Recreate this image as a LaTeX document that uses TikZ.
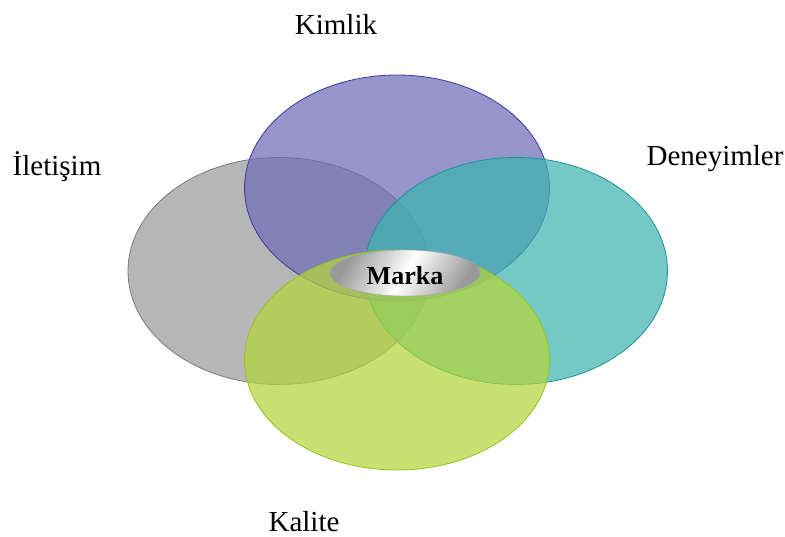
\documentclass[tikz,border=0pt]{standalone}
\usepackage{fontspec}
\setmainfont{Liberation Serif}
\usetikzlibrary{shapes.geometric}
\definecolor{kimlikfill}{HTML}{6E6EBA}
\definecolor{kimlikline}{HTML}{3A3A9A}
\definecolor{iletfill}{HTML}{9A9A9A}
\definecolor{iletline}{HTML}{7A7A7A}
\definecolor{deneyfill}{HTML}{3FB4B2}
\definecolor{deneyline}{HTML}{1A9494}
\definecolor{kalitefill}{HTML}{B4D43C}
\definecolor{kaliteline}{HTML}{94C21E}
\tikzset{
  petal/.style={draw, line width=0.8pt, fill opacity=0.72},
  label/.style={font=\fontsize{29}{32}\selectfont, anchor=base, inner sep=0pt},
}
\begin{document}
\begin{tikzpicture}[x=1pt,y=-1pt]
  \useasboundingbox (0,0) rectangle (785,536);
  % four overlapping brand components
  \node[petal, ellipse, minimum width=302pt, minimum height=227pt, inner sep=0pt,
        draw=iletline, fill=iletfill] (ilet) at (279,271) {};
  \node[petal, ellipse, minimum width=305pt, minimum height=226pt, inner sep=0pt,
        draw=kimlikline, fill=kimlikfill] (kimlik) at (397,188) {};
  \node[petal, ellipse, minimum width=303pt, minimum height=227pt, inner sep=0pt,
        draw=deneyline, fill=deneyfill] (deney) at (516,271) {};
  \node[petal, ellipse, minimum width=305pt, minimum height=220pt, inner sep=0pt,
        draw=kaliteline, fill=kalitefill] (kalite) at (397,360) {};
  % central brand core
  \node[ellipse, minimum width=150pt, minimum height=46pt, inner sep=0pt,
        draw=gray!70, line width=0.4pt,
        shading=axis, left color=gray!80, right color=gray!80, middle color=white,
        shading angle=60] (marka) at (405,273) {};
  \node[font=\bfseries\fontsize{26}{30}\selectfont, anchor=base, inner sep=0pt] (markalbl) at (405,284) {Marka};
  % labels
  \node[label] (kimliklbl) at (336,34) {Kimlik};
  \node[label] (iletlbl) at (57,175) {İletişim};
  \node[label] (deneylbl) at (715,165) {Deneyimler};
  \node[label] (kalitelbl) at (304,531) {Kalite};
\end{tikzpicture}
\end{document}
